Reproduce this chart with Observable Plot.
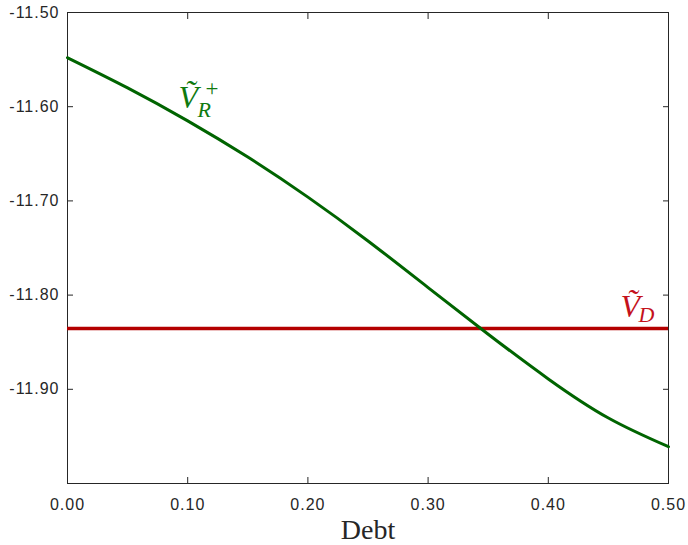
<!DOCTYPE html>
<html><head><meta charset="utf-8">
<script src="https://cdn.jsdelivr.net/npm/d3@7"></script>
<script src="https://cdn.jsdelivr.net/npm/@observablehq/plot@0.6"></script>
<style>
body{margin:0;background:#fff}
[aria-label$="tick label"] text, g[aria-label$="tick label"]{letter-spacing:1px}
</style>
</head><body><div id="chart"></div>
<script>
// Data
const debt = [0.00, 0.05, 0.10, 0.15, 0.20, 0.25, 0.30, 0.35, 0.40, 0.45, 0.50];
const vR   = [-11.548, -11.580, -11.615, -11.6535, -11.696, -11.7425, -11.792, -11.8415, -11.889, -11.9305, -11.961];
const vD   = -11.8355;
const xTicks = [0.0, 0.1, 0.2, 0.3, 0.4, 0.5];
const yTicks = [-11.5, -11.6, -11.7, -11.8, -11.9];
const xLabel = "Debt";

const curve = debt.map((d, i) => ({debt: d, v: vR[i]}));

const green = "#006400", greenText = "#0f7a0f";
const red = "#b40000", redText = "#c4121c";
const serifIt = "'Liberation Serif', 'DejaVu Serif', serif";

const chart = Plot.plot({
  width: 688, height: 545,
  marginLeft: 67, marginRight: 20, marginTop: 12, marginBottom: 62,
  style: {fontFamily: "'Liberation Sans', Arial, sans-serif", fontSize: "16px", color: "#262626", background: "#fff"},
  x: {domain: [0, 0.5]},
  y: {domain: [-12.0, -11.5]},
  marks: [
    Plot.axisX(xTicks, {anchor: "bottom", tickSize: -6, tickPadding: 21, tickFormat: d => d.toFixed(2), label: null, stroke: "#262626"}),
    Plot.axisX(xTicks, {anchor: "top", tickSize: -6, tickFormat: () => "", label: null, stroke: "#262626"}),
    Plot.axisY(yTicks, {anchor: "left", tickSize: -6, tickPadding: 14, tickFormat: d => d.toFixed(2), label: null, stroke: "#262626"}),
    Plot.axisY(yTicks, {anchor: "right", tickSize: -6, tickFormat: () => "", label: null, stroke: "#262626"}),
    Plot.frame({stroke: "#262626", strokeWidth: 1}),
    Plot.ruleY([vD], {stroke: red, strokeWidth: 3.5}),
    Plot.line(curve, {x: "debt", y: "v", stroke: green, strokeWidth: 3, curve: "natural"}),
    // V_R^+ label
    Plot.text(["Ṽ"], {x: () => 0.0923, y: () => -11.601, text: d => d, textAnchor: "start", lineAnchor: "bottom", fontFamily: serifIt, fontStyle: "italic", fontSize: 32, fill: greenText}),
    Plot.text(["R"], {x: () => 0.0923, y: () => -11.601, text: d => d, dx: 19, dy: 9, textAnchor: "start", lineAnchor: "bottom", fontFamily: serifIt, fontStyle: "italic", fontSize: 22, fill: greenText}),
    Plot.text(["+"], {x: () => 0.0923, y: () => -11.601, text: d => d, dx: 27, dy: -12, textAnchor: "start", lineAnchor: "bottom", fontFamily: serifIt, fontSize: 23, fill: greenText}),
    // V_D label
    Plot.text(["Ṽ"], {x: () => 0.46, y: () => -11.8237, text: d => d, textAnchor: "start", lineAnchor: "bottom", fontFamily: serifIt, fontStyle: "italic", fontSize: 32, fill: redText}),
    Plot.text(["D"], {x: () => 0.46, y: () => -11.8237, text: d => d, dx: 18, dy: 5, textAnchor: "start", lineAnchor: "bottom", fontFamily: serifIt, fontStyle: "italic", fontSize: 22, fill: redText}),
    // x label
    Plot.text([xLabel], {frameAnchor: "bottom", dy: 55, text: d => d, lineAnchor: "bottom", fontFamily: "'Liberation Serif', serif", fontSize: 28, fill: "#262626"})
  ]
});
document.getElementById("chart").appendChild(chart);
</script>
</body></html>
